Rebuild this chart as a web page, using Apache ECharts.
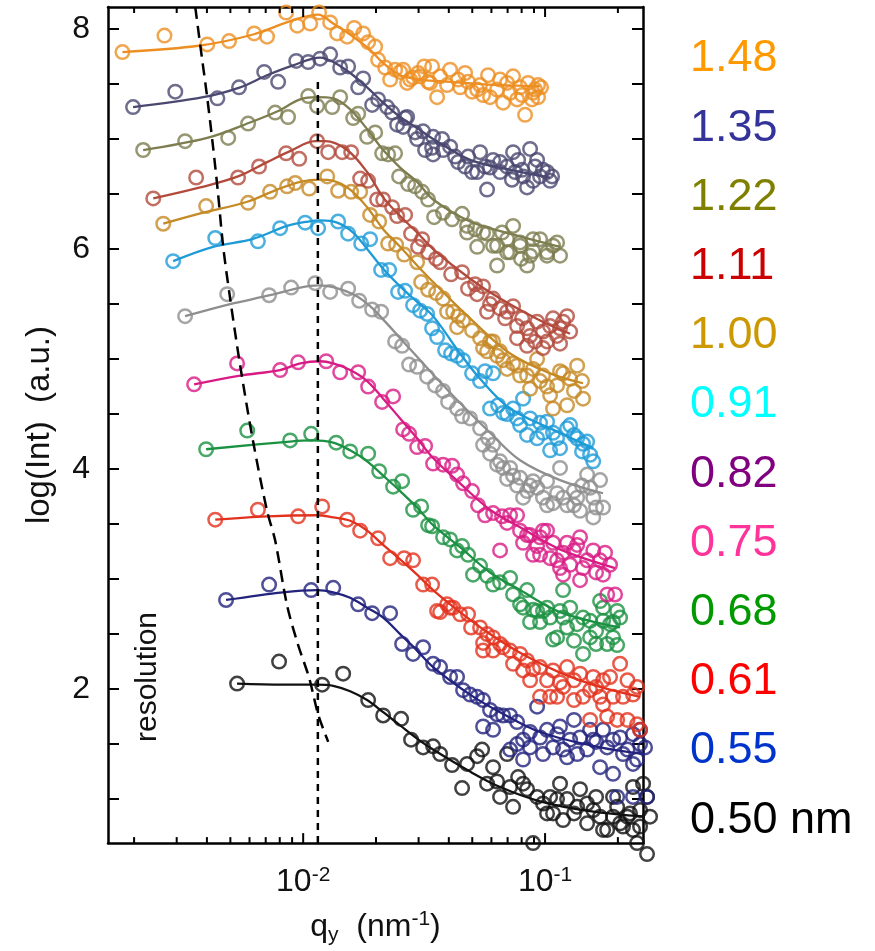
<!DOCTYPE html>
<html>
<head>
<meta charset="utf-8">
<script src="https://cdn.jsdelivr.net/npm/echarts@6/dist/echarts.min.js"></script>
<style>
  html, body { margin: 0; padding: 0; background: #ffffff; }
  #chart { width: 875px; height: 951px; }
</style>
</head>
<body>
<div id="chart"></div>
<script>
// Scattering profiles log(Int) versus q_y for twelve gap sizes.
// Each profile: measured points [q (nm^-1), log(Int)] and the model curve.

const gapLabels = ['1.48', '1.35', '1.22', '1.11', '1.00', '0.91', '0.82', '0.75', '0.68', '0.61', '0.55', '0.50 nm'];

const obs148 = [[0.00179,7.79],[0.00267,7.94],[0.00401,7.86],[0.00494,7.89],[0.00627,7.96],[0.00709,7.93],[0.00850,8.15],[0.00945,8.03],[0.01069,8.05],[0.01164,8.15],[0.01293,8.06],[0.01382,7.96],[0.01520,7.93],[0.01625,8.01],[0.01770,7.96],[0.01856,7.88],[0.01984,7.84],[0.02041,7.72],[0.02182,7.65],[0.02288,7.54],[0.02399,7.63],[0.02516,7.61],[0.02590,7.63],[0.02690,7.51],[0.02767,7.54],[0.02847,7.56],[0.02986,7.60],[0.03162,7.66],[0.03347,7.51],[0.03411,7.66],[0.03578,7.38],[0.03935,7.49],[0.04049,7.63],[0.04369,7.54],[0.04670,7.60],[0.04991,7.43],[0.05386,7.49],[0.05811,7.58],[0.05923,7.38],[0.06332,7.45],[0.06707,7.33],[0.06966,7.51],[0.07375,7.57],[0.07660,7.36],[0.07882,7.47],[0.08266,7.22],[0.08506,7.51],[0.08838,7.36],[0.09092,7.45],[0.09356,7.38],[0.09630,7.47],
  [0.03044,7.57],[0.03284,7.52],[0.03681,7.57],[0.04453,7.47],[0.04805,7.52],[0.05236,7.45],[0.05543,7.40],[0.06516,7.54],[0.07167,7.42],[0.08035,7.40],[0.08920,7.42],[0.09356,7.49]];
const fit148 = [[0.00179,7.79],[0.00375,7.85],[0.00621,7.95],[0.00909,8.08],[0.01153,8.13],[0.01331,8.05],[0.01609,7.93],[0.01891,7.81],[0.02141,7.69],[0.02516,7.58],[0.03044,7.54],[0.04049,7.52],[0.06516,7.49],[0.09535,7.48]];

const obs135 = [[0.00198,7.29],[0.00296,7.43],[0.00442,7.37],[0.00543,7.47],[0.00690,7.61],[0.00788,7.52],[0.00936,7.71],[0.01049,7.70],[0.01175,7.73],[0.01293,7.77],[0.01422,7.65],[0.01534,7.66],[0.01688,7.47],[0.01770,7.55],[0.01928,7.31],[0.02041,7.36],[0.02224,7.29],[0.02332,7.24],[0.02446,7.13],[0.02590,7.11],[0.02639,7.19],[0.02690,7.20],[0.02902,7.06],[0.02958,7.00],[0.03132,7.07],[0.03192,6.90],[0.03411,6.92],[0.03444,6.86],[0.03752,7.00],[0.04049,6.93],[0.04246,6.84],[0.04369,6.79],[0.04670,6.75],[0.04991,6.70],[0.05386,6.88],[0.05648,6.75],[0.05757,6.54],[0.06096,6.81],[0.06516,6.70],[0.06966,6.75],[0.07294,6.63],[0.07375,6.88],[0.07737,6.81],[0.08035,6.72],[0.08424,6.56],[0.08670,6.91],[0.09092,6.75],[0.09535,6.66],[0.1019,6.70],[0.1049,6.62],
  [0.03444,7.02],[0.03788,6.90],[0.04805,6.84],[0.05236,6.70],[0.05923,6.74],[0.06516,6.79],[0.07516,6.70],[0.08112,6.66],[0.09270,6.81],[0.09805,6.72],[0.1069,6.66],[0.08920,6.62]];
const fit135 = [[0.00198,7.29],[0.00386,7.38],[0.00549,7.47],[0.00709,7.58],[0.00909,7.67],[0.01175,7.74],[0.01331,7.70],[0.01564,7.60],[0.01838,7.47],[0.02141,7.33],[0.02516,7.20],[0.02958,7.10],[0.03444,7.00],[0.04897,6.81],[0.06516,6.74],[0.1049,6.65]];

const obs122 = [[0.00218,6.90],[0.00325,6.98],[0.00490,7.01],[0.00592,7.14],[0.00766,7.24],[0.00866,7.20],[0.01049,7.39],[0.01142,7.30],[0.01318,7.29],[0.01422,7.38],[0.01609,7.19],[0.01688,7.23],[0.01838,7.02],[0.01984,7.06],[0.02120,6.87],[0.02245,6.86],[0.02399,6.87],[0.02492,6.66],[0.02715,6.59],[0.02902,6.57],[0.03103,6.52],[0.03284,6.45],[0.03477,6.29],[0.03788,6.33],[0.04127,6.27],[0.04539,6.32],[0.04760,6.21],[0.05136,6.18],[0.05239,6.02],[0.05756,6.14],[0.06096,6.03],[0.06333,5.85],[0.06640,6.15],[0.06966,5.97],[0.07375,6.21],[0.07882,6.06],[0.07957,5.91],[0.08424,5.85],[0.08920,5.98],[0.09535,6.09],[0.1019,5.94],[0.1121,6.06],[0.1153,5.94],
  [0.04760,6.15],[0.05543,6.15],[0.06333,6.03],[0.06966,6.09],[0.07882,6.03],[0.08920,6.09],[0.1019,5.97],[0.1079,6.03],[0.08670,5.94],[0.07167,5.97]];
const fit122 = [[0.00218,6.90],[0.00401,7.01],[0.00603,7.15],[0.00780,7.25],[0.00972,7.36],[0.01142,7.38],[0.01331,7.37],[0.01564,7.27],[0.01838,7.09],[0.02141,6.90],[0.02516,6.74],[0.02958,6.61],[0.03444,6.45],[0.04897,6.25],[0.07167,6.14],[0.1153,6.02]];

const obs111 = [[0.00240,6.46],[0.00361,6.65],[0.00538,6.65],[0.00657,6.75],[0.00850,6.87],[0.00963,6.82],[0.01142,6.98],[0.01269,6.88],[0.01450,6.88],[0.01579,6.88],[0.01720,6.64],[0.01856,6.62],[0.02021,6.45],[0.02141,6.45],[0.02332,6.38],[0.02446,6.30],[0.02639,6.31],[0.02793,6.14],[0.02986,6.02],[0.03103,6.09],[0.03284,5.97],[0.03544,5.91],[0.03681,5.88],[0.04088,5.77],[0.04539,5.79],[0.04805,5.64],[0.05236,5.59],[0.05543,5.66],[0.05757,5.43],[0.06096,5.55],[0.06516,5.46],[0.06966,5.43],[0.07375,5.48],[0.07660,5.30],[0.07660,5.19],[0.08035,5.37],[0.08424,5.12],[0.08670,5.21],[0.09270,5.34],[0.09805,5.25],[0.09805,5.10],[0.1049,5.30],[0.1121,5.21],[0.1153,5.14],[0.1187,5.34],[0.1233,5.39],[0.1269,5.25],
  [0.06833,5.37],[0.08424,5.28],[0.09092,5.16],[0.1079,5.37],[0.1153,5.28],[0.1019,5.16],[0.05923,5.50],[0.05136,5.68]];
const fit111 = [[0.00240,6.46],[0.00375,6.56],[0.00538,6.66],[0.00709,6.79],[0.00883,6.89],[0.01121,6.98],[0.01233,6.98],[0.01520,6.90],[0.01838,6.70],[0.02141,6.47],[0.02516,6.30],[0.02958,6.15],[0.03444,6.00],[0.04897,5.73],[0.06516,5.55],[0.09535,5.35],[0.1269,5.23]];

const obs100 = [[0.00264,6.23],[0.00397,6.39],[0.00592,6.42],[0.00730,6.52],[0.00858,6.57],[0.00927,6.60],[0.01059,6.55],[0.01257,6.66],[0.01395,6.53],[0.01579,6.52],[0.01720,6.52],[0.01891,6.31],[0.02061,6.25],[0.02245,6.05],[0.02422,6.04],[0.02614,5.95],[0.02958,5.88],[0.03073,5.70],[0.03284,5.63],[0.03544,5.60],[0.03788,5.55],[0.03935,5.43],[0.04168,5.43],[0.04327,5.29],[0.04369,5.39],[0.04582,5.35],[0.04991,5.26],[0.05386,5.19],[0.05543,5.10],[0.05757,5.07],[0.06096,5.16],[0.06333,5.03],[0.06516,5.07],[0.06966,4.91],[0.07375,4.96],[0.07882,4.85],[0.08424,4.85],[0.08920,4.91],[0.09535,4.80],[0.09805,4.85],[0.1049,4.67],[0.1079,4.55],[0.1121,4.76],[0.1187,4.87],[0.1233,4.58],[0.1269,4.82],[0.1357,4.94],[0.1422,4.80],[0.1435,4.64],
  [0.06707,4.99],[0.07660,4.94],[0.08670,4.73],[0.1019,4.75],[0.1153,4.89],[0.1317,4.71],[0.09270,5.00],[0.05923,5.16]];
const fit100 = [[0.00264,6.23],[0.00386,6.33],[0.00587,6.43],[0.00780,6.54],[0.00972,6.61],[0.01175,6.63],[0.01331,6.62],[0.01564,6.54],[0.01838,6.38],[0.02141,6.18],[0.02516,6.02],[0.02958,5.85],[0.03444,5.70],[0.04897,5.37],[0.07167,5.05],[0.1049,4.87],[0.1435,4.78]];

const obs091 = [[0.00290,5.89],[0.00433,6.10],[0.00650,6.07],[0.00803,6.19],[0.01019,6.24],[0.01153,6.19],[0.01395,6.25],[0.01534,6.14],[0.01737,6.05],[0.01891,6.09],[0.02100,5.81],[0.02266,5.81],[0.02469,5.61],[0.02639,5.62],[0.02847,5.49],[0.03044,5.44],[0.03253,5.41],[0.03411,5.28],[0.03578,5.20],[0.03861,5.08],[0.04088,5.05],[0.04327,5.03],[0.04582,4.99],[0.04991,4.87],[0.05386,4.80],[0.05648,4.89],[0.05923,4.55],[0.06096,4.87],[0.06394,4.58],[0.06966,4.50],[0.07375,4.55],[0.07882,4.40],[0.08112,4.64],[0.08670,4.46],[0.09270,4.28],[0.09805,4.33],[0.1019,4.43],[0.1079,4.33],[0.1153,4.19],[0.1233,4.37],[0.1317,4.31],[0.1357,4.28],[0.1422,4.16],[0.1492,4.25],[0.1535,4.13],[0.1582,4.07],
  [0.06707,4.51],[0.07660,4.46],[0.08424,4.31],[0.09535,4.42],[0.1121,4.28],[0.1269,4.40],[0.1435,4.23],[0.1049,4.17]];
const fit091 = [[0.00290,5.89],[0.00424,6.02],[0.00615,6.09],[0.00858,6.21],[0.01049,6.25],[0.01175,6.26],[0.01382,6.24],[0.01609,6.15],[0.01838,6.00],[0.02141,5.82],[0.02516,5.66],[0.02958,5.52],[0.03444,5.39],[0.04453,5.05],[0.05386,4.82],[0.07167,4.55],[0.1049,4.37],[0.1582,4.19]];

const obs082 = [[0.00325,5.39],[0.00485,5.59],[0.00723,5.58],[0.00892,5.65],[0.01121,5.69],[0.01293,5.61],[0.01534,5.64],[0.01704,5.53],[0.01928,5.45],[0.02100,5.43],[0.02399,5.16],[0.02565,5.12],[0.02741,4.95],[0.02958,4.93],[0.03253,4.84],[0.03510,4.76],[0.03788,4.71],[0.03973,4.61],[0.04327,4.55],[0.04539,4.48],[0.04897,4.46],[0.05386,4.37],[0.05543,4.22],[0.05811,4.28],[0.06096,4.22],[0.06333,4.04],[0.06516,4.07],[0.06966,3.91],[0.07167,4.01],[0.07375,3.94],[0.07660,3.85],[0.07882,3.92],[0.08424,3.80],[0.08670,3.85],[0.09270,3.83],[0.09805,3.74],[0.1019,3.67],[0.1019,3.89],[0.1121,3.78],[0.1153,4.01],[0.1187,3.74],[0.1233,3.67],[0.1317,3.80],[0.1317,3.67],[0.1395,3.62],[0.1422,3.85],[0.1492,3.95],[0.1582,3.74],[0.1582,3.56],[0.1688,3.90],[0.1737,3.65],
  [0.05923,4.14],[0.06707,4.01],[0.08112,3.74],[0.08920,3.89],[0.1079,3.69],[0.1357,3.74],[0.1535,3.83],[0.1625,3.65]];
const fit082 = [[0.00325,5.39],[0.00499,5.50],[0.00730,5.58],[0.00972,5.65],[0.01153,5.67],[0.01356,5.65],[0.01640,5.58],[0.01891,5.48],[0.02182,5.34],[0.02516,5.19],[0.02958,5.02],[0.03444,4.86],[0.04453,4.60],[0.05923,4.33],[0.07882,4.08],[0.1153,3.90],[0.1737,3.78]];

const obs075 = [[0.00354,4.77],[0.00533,4.96],[0.00803,4.90],[0.00953,4.97],[0.01245,4.98],[0.01422,4.88],[0.01688,4.88],[0.01856,4.75],[0.02120,4.61],[0.02354,4.66],[0.02590,4.36],[0.02741,4.32],[0.02958,4.20],[0.03192,4.21],[0.03444,4.05],[0.03788,4.04],[0.04127,4.03],[0.04327,3.95],[0.04582,3.87],[0.04991,3.80],[0.05283,3.67],[0.05648,3.58],[0.06096,3.60],[0.06516,3.26],[0.06640,3.57],[0.07167,3.58],[0.07660,3.58],[0.07882,3.44],[0.08424,3.40],[0.08670,3.40],[0.08920,3.22],[0.09535,3.38],[0.09535,3.22],[0.09805,3.44],[0.1019,3.44],[0.1079,3.33],[0.1121,3.17],[0.1153,3.10],[0.1187,3.24],[0.1187,3.04],[0.1269,3.13],[0.1317,3.26],[0.1357,3.31],[0.1395,3.38],[0.1395,2.99],[0.1492,3.17],[0.1582,3.26],[0.1688,3.17],[0.1737,3.04],[0.1806,2.86],[0.1856,3.13],[0.1947,2.86],
  [0.06966,3.51],[0.08112,3.33],[0.09270,3.30],[0.1049,3.19],[0.1233,3.33],[0.1435,3.10],[0.1625,3.06],[0.1770,3.24]];
const fit075 = [[0.00354,4.77],[0.00549,4.85],[0.00803,4.90],[0.00972,4.96],[0.01175,4.98],[0.01331,4.96],[0.01564,4.90],[0.01838,4.80],[0.02141,4.64],[0.02516,4.46],[0.02958,4.28],[0.03444,4.10],[0.04453,3.87],[0.05923,3.63],[0.07882,3.47],[0.1153,3.27],[0.1947,3.10]];

const obs068 = [[0.00397,4.18],[0.00587,4.35],[0.00883,4.26],[0.01079,4.32],[0.01369,4.24],[0.01564,4.16],[0.01856,4.14],[0.02061,3.98],[0.02354,3.84],[0.02565,3.89],[0.02847,3.63],[0.03073,3.66],[0.03284,3.49],[0.03411,3.48],[0.03788,3.38],[0.04049,3.36],[0.04327,3.26],[0.04539,3.30],[0.04805,3.22],[0.05037,3.04],[0.05386,3.12],[0.05757,3.03],[0.06096,2.95],[0.06516,2.97],[0.07167,3.01],[0.07375,2.86],[0.07882,2.77],[0.08424,2.90],[0.08920,2.72],[0.09270,2.71],[0.09805,2.71],[0.1019,2.74],[0.1049,2.65],[0.1079,2.45],[0.1121,2.47],[0.1153,2.71],[0.1187,2.90],[0.1233,2.56],[0.1317,2.44],[0.1357,2.59],[0.1435,2.65],[0.1435,2.32],[0.1535,2.62],[0.1625,2.53],[0.1625,2.41],[0.1688,2.80],[0.1737,2.62],[0.1806,2.41],[0.1856,2.59],[0.1910,2.47],[0.1986,2.71],[0.1986,2.40],[0.2042,2.65],
  [0.09535,2.61],[0.1187,2.65],[0.1269,2.74],[0.1535,2.47],[0.1737,2.74],[0.1910,2.61],[0.08112,2.74],[0.08670,2.61]];
const fit068 = [[0.00397,4.18],[0.00883,4.25],[0.01089,4.26],[0.01331,4.24],[0.01564,4.17],[0.01838,4.07],[0.02141,3.94],[0.02516,3.80],[0.02958,3.65],[0.03444,3.49],[0.04453,3.29],[0.05923,3.06],[0.07882,2.90],[0.1153,2.70],[0.2042,2.56]];

const obs061 = [[0.00433,3.54],[0.00650,3.63],[0.00953,3.57],[0.01198,3.66],[0.01520,3.54],[0.01720,3.44],[0.02041,3.37],[0.02288,3.19],[0.02614,3.19],[0.02847,3.17],[0.03132,2.95],[0.03411,2.95],[0.03578,2.71],[0.03681,2.70],[0.03935,2.77],[0.04049,2.74],[0.04168,2.74],[0.04453,2.68],[0.04805,2.68],[0.04944,2.56],[0.05386,2.56],[0.05543,2.42],[0.05543,2.35],[0.05757,2.50],[0.06096,2.47],[0.06096,2.35],[0.06516,2.41],[0.06707,2.38],[0.07167,2.35],[0.07375,2.23],[0.07882,2.32],[0.08112,2.17],[0.08424,2.26],[0.08920,2.18],[0.09535,2.20],[0.09535,1.93],[0.1019,2.08],[0.1049,1.93],[0.1079,2.17],[0.1121,1.93],[0.1187,2.02],[0.1317,2.08],[0.1317,1.90],[0.1395,2.14],[0.1535,1.99],[0.1535,1.72],[0.1582,2.11],[0.1688,1.93],[0.1737,2.08],[0.1737,1.86],[0.1910,1.93],[0.1986,1.72],[0.2042,2.23],[0.2191,2.08],[0.2191,1.72],[0.2310,1.95],[0.2400,1.68],[0.2470,1.63],
  [0.08670,2.08],[0.1153,2.06],[0.1233,2.20],[0.1435,1.93],[0.1625,2.02],[0.1856,2.11],[0.2100,1.93],[0.2400,2.02],[0.1806,1.75]];
const fit061 = [[0.00433,3.54],[0.00709,3.57],[0.01142,3.58],[0.01331,3.56],[0.01564,3.53],[0.01838,3.44],[0.02141,3.31],[0.02516,3.18],[0.02958,3.04],[0.03444,2.90],[0.04453,2.70],[0.05923,2.50],[0.07882,2.33],[0.1153,2.15],[0.1688,2.02],[0.2470,1.93]];

const obs055 = [[0.00480,2.81],[0.00723,2.95],[0.01079,2.90],[0.01331,2.92],[0.01688,2.77],[0.01928,2.69],[0.02288,2.69],[0.02565,2.41],[0.02847,2.32],[0.03132,2.38],[0.03444,2.23],[0.03681,2.20],[0.04049,2.11],[0.04327,2.11],[0.04582,1.99],[0.04897,1.95],[0.05236,1.93],[0.05543,1.90],[0.05543,1.66],[0.05923,1.81],[0.06096,1.63],[0.06333,1.77],[0.06707,1.76],[0.07167,1.76],[0.07167,1.45],[0.07660,1.50],[0.08112,1.54],[0.08112,1.36],[0.08670,1.47],[0.09270,1.84],[0.09535,1.56],[0.09805,1.41],[0.1019,1.63],[0.1121,1.59],[0.1187,1.45],[0.1233,1.38],[0.1269,1.54],[0.1317,1.72],[0.1395,1.56],[0.1492,1.45],[0.1535,1.63],[0.1582,1.54],[0.1688,1.29],[0.1737,1.63],[0.1806,1.47],[0.1910,1.54],[0.1910,1.23],[0.1986,1.02],[0.2042,1.56],[0.2191,1.45],[0.2310,1.59],[0.2310,1.32],[0.2310,1.02],[0.2470,1.50],[0.2590,1.47],[0.2640,1.02],
  [0.07660,1.70],[0.08670,1.61],[0.1079,1.47],[0.1153,1.66],[0.1357,1.41],[0.1625,1.52],[0.2100,1.41],[0.2400,1.36],[0.2470,1.63]];
const fit055 = [[0.00480,2.81],[0.00825,2.88],[0.01142,2.90],[0.01331,2.88],[0.01564,2.83],[0.01838,2.74],[0.02141,2.65],[0.02516,2.50],[0.02958,2.35],[0.03444,2.20],[0.04897,1.95],[0.06516,1.79],[0.09535,1.61],[0.1688,1.47],[0.2590,1.41]];

const obs050 = [[0.00533,2.05],[0.00795,2.25],[0.01198,2.04],[0.01463,2.14],[0.01856,1.90],[0.02141,1.76],[0.02540,1.73],[0.02793,1.54],[0.03132,1.47],[0.03444,1.48],[0.03681,1.41],[0.04127,1.31],[0.04539,1.10],[0.04760,1.32],[0.05236,1.39],[0.05490,1.45],[0.05757,1.14],[0.06333,1.16],[0.06516,1.02],[0.06966,1.41],[0.07375,0.93],[0.07737,1.20],[0.08112,1.14],[0.08424,1.09],[0.08920,0.60],[0.09270,1.02],[0.09805,0.96],[0.1019,0.87],[0.1079,0.87],[0.1121,1.00],[0.1153,1.14],[0.1233,1.00],[0.1317,0.87],[0.1395,1.09],[0.1492,0.96],[0.1492,0.78],[0.1582,0.90],[0.1688,0.84],[0.1806,0.72],[0.1910,1.02],[0.1910,0.84],[0.2042,0.78],[0.2100,0.75],[0.2245,0.87],[0.2310,1.11],[0.2310,0.72],[0.2400,0.60],[0.2470,0.90],[0.2542,1.14],[0.2640,1.02],[0.2640,0.50],[0.2716,0.84],
  [0.1049,1.02],[0.1187,0.81],[0.1357,0.93],[0.1625,1.02],[0.1737,0.72],[0.1986,0.93],[0.2191,0.84],[0.2470,0.75],[0.07167,1.11],[0.06096,1.29]];
const fit050 = [[0.00533,2.05],[0.00825,2.04],[0.01142,2.04],[0.01331,2.03],[0.01564,1.98],[0.01838,1.90],[0.02141,1.79],[0.02516,1.67],[0.02958,1.55],[0.03444,1.45],[0.04897,1.25],[0.06516,1.11],[0.09535,0.98],[0.1535,0.89],[0.2590,0.84]];

// Instrumental resolution limit and the position of the correlation peak
const resolution = [[0.00358,8.20],[0.00375,7.86],[0.00401,7.38],[0.00424,6.93],[0.00444,6.52],[0.00467,6.02],[0.00499,5.55],[0.00549,4.94],[0.00621,4.25],[0.00709,3.62],[0.00766,3.35],[0.00858,2.76],[0.00950,2.41],[0.01059,2.10],[0.01153,1.77],[0.01269,1.52]];
const peakQ = 0.0115;
const peakTop = 7.55;

// Axis ranges and ticks
const Q_MIN = 0.00156, Q_MAX = 0.254;
const I_MIN = 0.6, I_MAX = 8.2;
const qMajorTicks = [0.01, 0.1];
const qMinorTicks = [0.002, 0.003, 0.004, 0.005, 0.006, 0.007, 0.008, 0.009, 0.02, 0.03, 0.04, 0.05, 0.06, 0.07, 0.08, 0.09, 0.2];
const iTicks = [1, 1.5, 2, 2.5, 3, 3.5, 4, 4.5, 5, 5.5, 6, 6.5, 7, 7.5, 8];
const iLabels = [2, 4, 6, 8];

const observed = [obs148, obs135, obs122, obs111, obs100, obs091, obs082, obs075, obs068, obs061, obs055, obs050];
const fitted = [fit148, fit135, fit122, fit111, fit100, fit091, fit082, fit075, fit068, fit061, fit055, fit050];
const markColors = ['#EC8E22', '#4A4870', '#7D7D50', '#B24A3C', '#C58A25', '#1E9BD7', '#8E8E8E', '#D81B84', '#1B9142', '#E2321E', '#23237E', '#111111'];
const labelColors = ['#FF9900', '#333399', '#808000', '#CC0000', '#CC9900', '#00FFFF', '#800080', '#FF3399', '#009900', '#FF0000', '#0033CC', '#000000'];

const FONT = '"Liberation Sans", Arial, Helvetica, sans-serif';

function tickSeries(values, len) {
  return {
    type: 'custom',
    silent: true,
    clip: false,
    z: 8,
    data: values.map(v => [v, I_MIN]),
    renderItem: function (params, api) {
      const x = api.coord([api.value(0), I_MIN])[0];
      const cs = params.coordSys;
      const st = { stroke: '#000', lineWidth: 2 };
      return {
        type: 'group',
        children: [
          { type: 'line', shape: { x1: x, y1: cs.y + cs.height, x2: x, y2: cs.y + cs.height - len }, style: st },
          { type: 'line', shape: { x1: x, y1: cs.y, x2: x, y2: cs.y + len }, style: st }
        ]
      };
    }
  };
}

const series = [];
for (let k = observed.length - 1; k >= 0; k--) {
  series.push({
    type: 'line', name: gapLabels[k], data: fitted[k],
    showSymbol: false, smooth: 0.35, silent: true, clip: false, z: 3,
    lineStyle: { color: markColors[k], width: 2.3 }
  });
  series.push({
    type: 'scatter', name: gapLabels[k], data: observed[k],
    symbol: 'circle', symbolSize: 13.5, clip: false, z: 4,
    itemStyle: { color: 'rgba(0,0,0,0)', borderColor: markColors[k], borderWidth: 2.5 }
  });
}
series.push({
  type: 'line', data: resolution, showSymbol: false, smooth: 0.3, silent: true, clip: false, z: 5,
  lineStyle: { color: '#000', width: 2.5, type: [12, 7] }
});
series.push({
  type: 'line', data: [[peakQ, I_MIN], [peakQ, peakTop]], showSymbol: false, silent: true, z: 5,
  lineStyle: { color: '#000', width: 2.5, type: [7, 6] }
});
series.push(tickSeries(qMajorTicks, 10));
series.push(tickSeries(qMinorTicks, 6));

const axisLineStyle = { show: true, lineStyle: { color: '#000', width: 2.5 } };

function qLabel(v) {
  const e = Math.log10(v);
  if (Math.abs(e - Math.round(e)) > 1e-6) return '';
  return '{b|10}{s|' + Math.round(e) + '}';
}

const option = {
  backgroundColor: '#ffffff',
  animation: false,
  grid: { left: 108, top: 7, width: 535, height: 839 },
  xAxis: [
    {
      type: 'log', logBase: 10, min: Q_MIN, max: Q_MAX, position: 'bottom',
      axisLine: axisLineStyle, axisTick: { show: false }, splitLine: { show: false },
      axisLabel: {
        formatter: qLabel, margin: 22, showMinLabel: false, showMaxLabel: false,
        rich: {
          b: { fontFamily: FONT, fontSize: 32, color: '#111', lineHeight: 34 },
          s: { fontFamily: FONT, fontSize: 21, color: '#111', lineHeight: 34, verticalAlign: 'top', padding: [0, 0, 18, 0] }
        }
      },
      name: '{q|q}{y|y}{t|  (nm}{s|-1}{t|)}',
      nameLocation: 'middle', nameGap: 45,
      nameTextStyle: {
        rich: {
          q: { fontFamily: FONT, fontSize: 32, color: '#111', lineHeight: 34 },
          y: { fontFamily: FONT, fontSize: 21, color: '#111', lineHeight: 34, padding: [16, 0, 0, 0] },
          t: { fontFamily: FONT, fontSize: 32, color: '#111', lineHeight: 34 },
          s: { fontFamily: FONT, fontSize: 21, color: '#111', lineHeight: 34, padding: [0, 0, 16, 0] }
        }
      }
    },
    {
      type: 'log', logBase: 10, min: Q_MIN, max: Q_MAX, position: 'top',
      axisLine: axisLineStyle, axisTick: { show: false }, axisLabel: { show: false }, splitLine: { show: false }
    }
  ],
  yAxis: [
    {
      type: 'value', min: I_MIN, max: I_MAX, position: 'left',
      axisLine: axisLineStyle, splitLine: { show: false },
      axisTick: { inside: true, length: 11, lineStyle: { color: '#000', width: 2 }, customValues: iTicks },
      axisLabel: { customValues: iLabels, margin: 18, fontFamily: FONT, fontSize: 32, color: '#111' },
      name: 'log(Int)  (a.u.)', nameLocation: 'middle', nameGap: 52,
      nameTextStyle: { fontFamily: FONT, fontSize: 33, color: '#111' }
    },
    {
      type: 'value', min: I_MIN, max: I_MAX, position: 'right',
      axisLine: axisLineStyle, splitLine: { show: false }, axisLabel: { show: false },
      axisTick: { inside: true, length: 11, lineStyle: { color: '#000', width: 2 }, customValues: iTicks }
    }
  ],
  graphic: gapLabels.map((t, k) => ({
    type: 'text', x: 690, y: 59 + 69.2 * k,
    style: { text: t, fill: labelColors[k], font: '45px ' + FONT, align: 'left', verticalAlign: 'middle' }
  })).concat([{
    type: 'text', x: 148, y: 677, rotation: Math.PI / 2,
    style: { text: 'resolution', fill: '#111', font: '30px ' + FONT, align: 'center', verticalAlign: 'middle' }
  }]),
  series: series
};

const chart = echarts.init(document.getElementById('chart'), null, { renderer: 'canvas' });
chart.setOption(option);
</script>
</body>
</html>
